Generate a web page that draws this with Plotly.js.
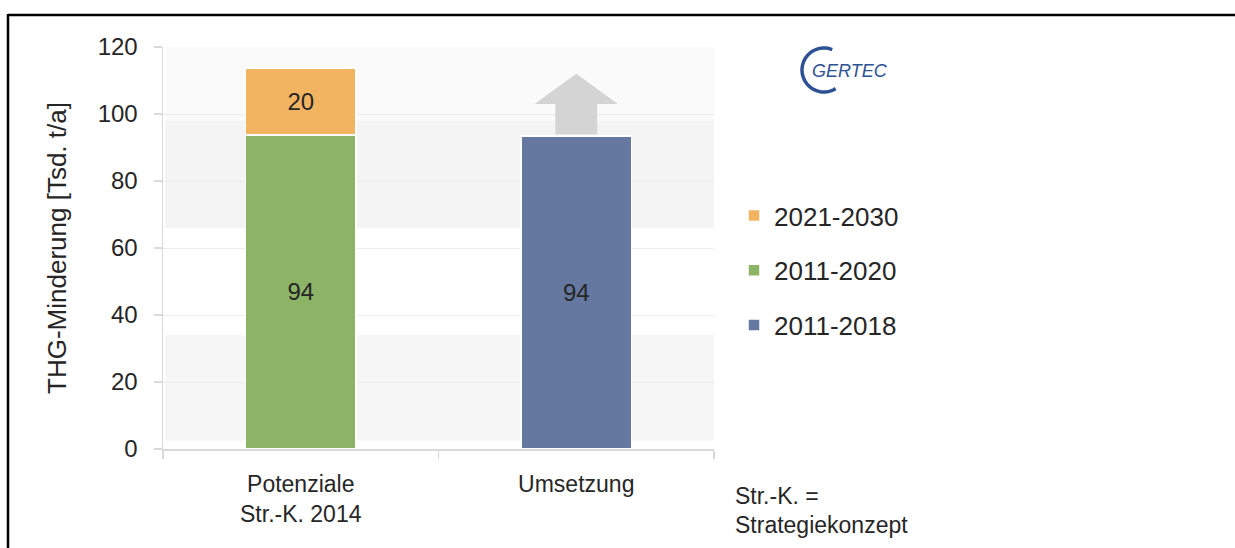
<!DOCTYPE html>
<html>
<head>
<meta charset="utf-8">
<script src="https://cdn.plot.ly/plotly-3.0.1.min.js"></script>
<style>
html,body{margin:0;padding:0;background:#fff;}
#chart{width:1235px;height:548px;}
</style>
</head>
<body>
<div id="chart"></div>
<script>
// ---- data ----
const categories = ['Potenziale<br>Str.-K. 2014', 'Umsetzung'];
const seriesNames = ['2011-2018', '2011-2020', '2021-2030'];
const values2011_2018 = [null, 93.5];
const values2011_2020 = [93.8, null];
const values2021_2030 = [19.9, null];
const seriesColors = ['#6578a0', '#8cb466', '#f3b462'];
const legendRanks = [3, 2, 1];
const yTicks = [0, 20, 40, 60, 80, 100, 120];
const yTitle = 'THG-Minderung [Tsd. t/a]';
const footnote = ['Str.-K. =', 'Strategiekonzept'];
const logoText = 'GERTEC';

// ---- layout geometry ----
const W = 1235, H = 548;
const M = {l: 163, r: 521, t: 47, b: 99};
const PW = W - M.l - M.r, PH = H - M.t - M.b;
const px2x = p => (p - M.l) / PW;
const px2y = p => (H - M.b - p) / PH;

const textColor = '#262626';
const FAM = 'Liberation Sans, Arial, sans-serif';
const font = {family: FAM, size: 24, color: textColor};

function barTrace(i, vals) {
  return {
    type: 'bar',
    name: seriesNames[i],
    legendgroup: seriesNames[i],
    legendrank: legendRanks[i],
    x: categories,
    y: vals,
    width: 0.4,
    marker: {color: seriesColors[i], line: {color: '#ffffff', width: 1.5}},
    text: vals.map(v => v == null ? '' : String(Math.round(v))),
    textposition: 'inside',
    insidetextanchor: 'middle',
    textangle: 0,
    textfont: {family: FAM, size: 24, color: textColor},
    hoverinfo: 'skip'
  };
}

const traces = [
  barTrace(0, values2011_2018),
  barTrace(1, values2011_2020),
  barTrace(2, values2021_2030)
];

// background bands (decorative, in y-units)
const bands = [
  {y0: 98, y1: 120, c: '#fafafa'},
  {y0: 66, y1: 98, c: '#f4f4f4'},
  {y0: 2.5, y1: 34, c: '#f6f6f6'}
];
const shapes = bands.map(b => ({
  type: 'rect', layer: 'below', xref: 'paper', yref: 'y',
  x0: px2x(165), x1: 1, y0: b.y0, y1: b.y1,
  fillcolor: b.c, line: {width: 0}
}));

// grey arrow above the "Umsetzung" bar
const aBase = values2011_2018[1] + 0.4, aHead = 103, aTip = 112;
const cx = 1, sw = 0.076, hw = 0.151;
shapes.push({
  type: 'path', xref: 'x', yref: 'y', layer: 'above',
  path: `M${cx - sw},${aBase} L${cx - sw},${aHead} L${cx - hw},${aHead} L${cx},${aTip} L${cx + hw},${aHead} L${cx + sw},${aHead} L${cx + sw},${aBase} Z`,
  fillcolor: '#d4d4d4', line: {width: 0}
});

// frame lines
shapes.push({type: 'line', xref: 'paper', yref: 'paper',
  x0: px2x(8), x1: px2x(1240), y0: px2y(15), y1: px2y(15),
  line: {color: '#000', width: 2.5}});
shapes.push({type: 'line', xref: 'paper', yref: 'paper',
  x0: px2x(8), x1: px2x(8), y0: px2y(14), y1: px2y(560),
  line: {color: '#000', width: 2.5}});

// logo arc
(function () {
  const ccx = 824, ccy = 70, r = 22;
  let d = '';
  for (let a = 68; a <= 302; a += 6) {
    const t = a * Math.PI / 180;
    const X = px2x(ccx + r * Math.cos(t)), Y = px2y(ccy - r * Math.sin(t));
    d += (d ? ' L' : 'M') + X.toFixed(5) + ',' + Y.toFixed(5);
  }
  shapes.push({type: 'path', xref: 'paper', yref: 'paper', path: d,
    line: {color: '#2d5193', width: 3.5}});
})();

const annotations = [
  {xref: 'paper', yref: 'paper', x: px2x(733), y: px2y(496), xanchor: 'left', yanchor: 'middle',
   text: footnote[0], showarrow: false, font: {family: FAM, size: 23, color: textColor}},
  {xref: 'paper', yref: 'paper', x: px2x(733), y: px2y(525), xanchor: 'left', yanchor: 'middle',
   text: footnote[1], showarrow: false, font: {family: FAM, size: 23, color: textColor}},
  {xref: 'paper', yref: 'paper', x: px2x(810), y: px2y(71), xanchor: 'left', yanchor: 'middle',
   text: '<i>' + logoText + '</i>', showarrow: false,
   font: {family: 'Liberation Sans Narrow, Liberation Sans, Arial', size: 18, color: '#2d5193'}}
];

const layout = {
  width: W, height: H,
  margin: M,
  paper_bgcolor: '#ffffff',
  plot_bgcolor: '#ffffff',
  font: font,
  barmode: 'stack',
  showlegend: true,
  legend: {
    x: px2x(734), y: px2y(192), xanchor: 'left', yanchor: 'top',
    traceorder: 'grouped', tracegroupgap: 18,
    font: {family: FAM, size: 26, color: textColor},
    bgcolor: 'rgba(0,0,0,0)'
  },
  xaxis: {
    type: 'category',
    range: [-0.5, 1.5],
    showgrid: false,
    showline: true, linecolor: '#d9d9d9', linewidth: 2,
    ticks: 'outside', tickson: 'boundaries', ticklen: 8, tickcolor: '#d9d9d9', tickwidth: 1.5,
    ticklabelstandoff: 13,
    tickfont: {family: FAM, size: 23, color: textColor},
    fixedrange: true
  },
  yaxis: {
    range: [0, 120],
    tickvals: yTicks,
    showgrid: true, gridcolor: '#ececec', gridwidth: 1,
    zeroline: false,
    showline: true, linecolor: '#d9d9d9', linewidth: 1.5,
    ticks: 'outside', ticklen: 8, tickcolor: '#d9d9d9', tickwidth: 1.5,
    ticklabelstandoff: 11,
    tickfont: {family: FAM, size: 24, color: textColor},
    title: {text: yTitle, font: {family: FAM, size: 26, color: textColor}, standoff: 23},
    fixedrange: true
  },
  shapes: shapes,
  annotations: annotations
};

Plotly.newPlot('chart', traces, layout, {displayModeBar: false, staticPlot: true});
</script>
</body>
</html>
